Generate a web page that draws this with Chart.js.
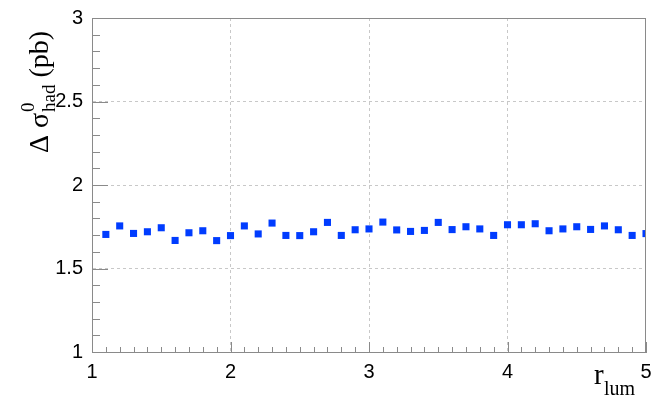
<!DOCTYPE html>
<html>
<head>
<meta charset="utf-8">
<script src="https://cdn.jsdelivr.net/npm/chart.js@4.4.1/dist/chart.umd.min.js"></script>
<style>
  html, body { margin: 0; padding: 0; background: #fff; }
  #cont { width: 651px; height: 405px; position: relative; }
</style>
</head>
<body>
<div id="cont"><canvas id="grafico"></canvas></div>
<script>
// valores de r_lum
var rLum = [1.1, 1.2, 1.3, 1.4, 1.5, 1.6, 1.7, 1.8, 1.9, 2.0,
            2.1, 2.2, 2.3, 2.4, 2.5, 2.6, 2.7, 2.8, 2.9, 3.0,
            3.1, 3.2, 3.3, 3.4, 3.5, 3.6, 3.7, 3.8, 3.9, 4.0,
            4.1, 4.2, 4.3, 4.4, 4.5, 4.6, 4.7, 4.8, 4.9, 5.0];
// delta sigma had (pb)
var deltaSigma = [1.704, 1.755, 1.710, 1.720, 1.744, 1.668, 1.714, 1.726, 1.667, 1.697,
                  1.755, 1.707, 1.772, 1.698, 1.697, 1.720, 1.776, 1.698, 1.732, 1.737,
                  1.778, 1.731, 1.722, 1.728, 1.776, 1.733, 1.750, 1.737, 1.698, 1.762,
                  1.762, 1.768, 1.726, 1.737, 1.750, 1.734, 1.755, 1.732, 1.698, 1.709];
var xTicks = [1, 2, 3, 4, 5];
var yTicks = [1, 1.5, 2, 2.5, 3];

var puntos = [];
for (let i = 0; i < rLum.length; i++) {
  puntos.push({x: rLum[i], y: deltaSigma[i]});
}

var colorMarco = "#8a8a8a";

// marco, marcas interiores y titulos de ejes estilo ROOT
var pluginMarco = {
  id: "marco",
  afterDraw: function(chart) {
    var ctx = chart.ctx;
    var a = chart.chartArea;
    var sx = chart.scales.x;
    var sy = chart.scales.y;
    ctx.save();
    ctx.strokeStyle = colorMarco;
    ctx.lineWidth = 1;
    ctx.strokeRect(a.left + 0.5, a.top + 0.5, a.right - a.left - 1, a.bottom - a.top);
    ctx.beginPath();
    // marcas eje x
    for (let k = 10; k <= 50; k++) {
      var v = k / 10;
      var px = Math.round(sx.getPixelForValue(v)) + 0.5;
      var largo = (k % 10 == 0) ? 10 : 5;
      ctx.moveTo(px, a.bottom);
      ctx.lineTo(px, a.bottom - largo);
    }
    // marcas eje y
    for (let k = 10; k <= 30; k++) {
      var v2 = k / 10;
      var py = Math.round(sy.getPixelForValue(v2)) + 0.5;
      var largo2 = (k % 5 == 0) ? 16 : 8;
      ctx.moveTo(a.left, py);
      ctx.lineTo(a.left + largo2, py);
    }
    ctx.stroke();

    ctx.fillStyle = "#000";
    // titulo eje y
    ctx.translate(48, 153);
    ctx.rotate(-Math.PI / 2);
    ctx.textBaseline = "alphabetic";
    ctx.textAlign = "left";
    ctx.font = "28px 'Liberation Serif'";
    var t1 = "\u0394 \u03c3";
    ctx.fillText(t1, 0, 0);
    var w = ctx.measureText(t1).width;
    ctx.font = "19px 'Liberation Serif'";
    ctx.fillText("0", w + 1, -14);
    ctx.fillText("had", w + 1, 7);
    var w2 = ctx.measureText("had").width;
    ctx.font = "28px 'Liberation Serif'";
    ctx.fillText(" (pb)", w + 1 + w2, 0);
    ctx.restore();

    // titulo eje x
    ctx.save();
    ctx.fillStyle = "#000";
    ctx.font = "29px 'Liberation Serif'";
    ctx.textBaseline = "alphabetic";
    ctx.fillText("r", 594, 384);
    ctx.font = "20px 'Liberation Serif'";
    ctx.fillText("lum", 604, 395);
    ctx.restore();
  }
};

function colorRejilla(ctx) {
  var v = ctx.tick ? ctx.tick.value : null;
  if (v === null || v == ctx.scale.min || v == ctx.scale.max) return "rgba(0,0,0,0)";
  return "#c8c8c8";
}

function etiqueta(valor) {
  return String(valor);
}

new Chart(document.getElementById("grafico"), {
  type: "scatter",
  data: {
    datasets: [{
      label: "delta sigma",
      data: puntos,
      pointStyle: "rect",
      pointRadius: 5,
      pointHoverRadius: 5,
      pointBorderWidth: 0,
      backgroundColor: "rgb(0,60,255)",
      borderColor: "rgb(0,60,255)"
    }]
  },
  options: {
    responsive: true,
    maintainAspectRatio: false,
    animation: false,
    events: [],
    layout: { padding: { left: 0, top: 18, right: 2, bottom: 0 } },
    plugins: { legend: { display: false }, tooltip: { enabled: false } },
    scales: {
      x: {
        type: "linear",
        min: 1, max: 5,
        afterBuildTicks: function(s) { s.ticks = xTicks.map(function(v) { return {value: v}; }); },
        afterFit: function(s) { s.height = 53; s.paddingLeft = 0; s.paddingRight = 0; },
        ticks: {
          padding: 8,
          color: "#000",
          font: { family: "'Liberation Sans'", size: 20 },
          maxRotation: 0,
          callback: etiqueta
        },
        grid: { color: colorRejilla, drawTicks: false, lineWidth: 1 },
        border: { display: true, color: colorMarco, dash: [3, 3] }
      },
      y: {
        type: "linear",
        min: 1, max: 3,
        afterBuildTicks: function(s) { s.ticks = yTicks.map(function(v) { return {value: v}; }); },
        afterFit: function(s) { s.width = 92; s.paddingTop = 0; s.paddingBottom = 0; },
        ticks: {
          padding: 9,
          color: "#000",
          font: { family: "'Liberation Sans'", size: 20 },
          callback: etiqueta
        },
        grid: { color: colorRejilla, drawTicks: false, lineWidth: 1 },
        border: { display: true, color: colorMarco, dash: [3, 3] }
      }
    }
  },
  plugins: [pluginMarco]
});
</script>
</body>
</html>
